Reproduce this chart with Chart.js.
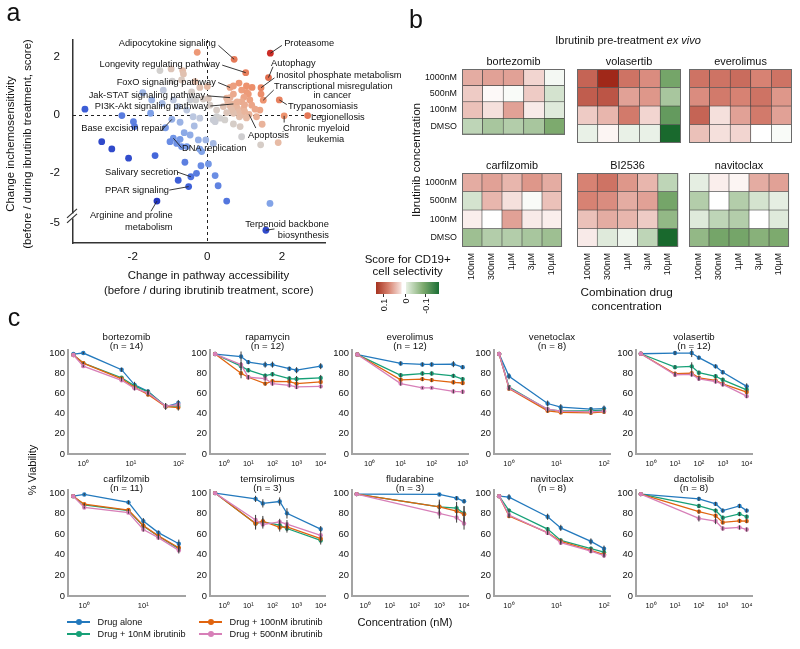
<!DOCTYPE html>
<html>
<head>
<meta charset="utf-8">
<script src="https://cdn.jsdelivr.net/npm/chart.js@4.4.1/dist/chart.umd.min.js"></script>
<style>
body { margin: 0; background: #fff; }
#fig { position: relative; width: 800px; height: 649px; overflow: hidden; font-family: "Liberation Sans", Arial, sans-serif; color: #111; }
#fig canvas { position: absolute; }
.t { position: absolute; white-space: nowrap; line-height: 1; }
</style>
</head>
<body>
<div id="fig"></div>
<script>
// ---- panel a: pathway scores (first 19 are the labelled pathways) ----
const pathX = [0.72, 1.69, 1.03, 1.64, 1.44, 0.61, 1.50, 0.61, 1.93, 0.70, 2.69, 2.06, 1.12, -0.95, -0.91, -0.44, -0.50, -1.35, 1.57,
  -0.27, 1.44, 1.41, 1.47, 1.90, 1.43,
  0.70, 0.92, 1.06, 0.70, 1.10, 0.52, 0.98, 0.92, 1.14, 0.79, 0.61, 0.43, 0.97, 0.83, 0.70, 0.86, 1.19, 1.28, 1.32, 0.80, 0.55, 1.00, 0.65, 0.90, 1.00, 0.52, 1.20, 0.85, 1.05,
  0.25, 0.16, 0.47, 0.92, 0.25, 0.34, 0.21, 0.70, 0.88, 1.05,
  -1.27, -0.97, -0.66, -0.64, -0.94, -0.69, -0.33, -0.20, 0.00, -0.42, -0.31, -0.11, 0.03, 0.07, -1.73, -1.18, -1.49, -1.21, -0.91, -0.78, -0.55, -0.46, -1.52, -2.29, -1.98, -1.95, -3.28, -1.12, -0.73, -0.38, -0.20, -0.35, -0.46, -0.62, -1.00, -0.73, -0.82, -0.69, -0.55, -0.24, -0.20, -0.04, 0.16, -0.15, -0.60, -1.40, -2.11, -2.56, -2.83, -0.17, 0.03, -0.29, -0.78, 0.21, 0.29, 0.52, 1.68];
const pathY = [1.92, 2.13, 1.46, 1.29, 0.94, 0.95, 0.51, 0.60, 0.52, 0.38, -0.02, -0.03, 0.02, -0.15, -0.80, -2.13, -2.47, -2.97, -5.25,
  2.16, 0.72, 0.17, -0.32, -0.95, -1.03,
  1.00, 0.86, 0.78, 0.72, 0.72, 0.58, 0.61, 0.46, 0.52, 0.27, 0.31, 0.29, 0.23, 0.11, 0.06, -0.06, 0.34, 0.20, -0.06, 0.45, 0.45, 0.35, 0.18, 0.00, 0.12, 0.08, 0.95, 1.10, 1.00,
  -0.06, -0.17, -0.17, -0.75, 0.17, -0.11, -0.23, -0.31, -0.40, -0.10,
  1.53, 1.59, 1.53, 1.41, 1.17, 1.21, 1.15, 0.95, 0.98, 0.80, 0.52, 0.55, 0.57, 0.34, 0.77, 0.86, 0.52, 0.40, 0.52, 0.29, 0.17, 0.52, 0.06, -0.02, -0.23, -0.40, 0.20, -0.44, -0.25, -0.06, -0.11, -0.38, -0.69, -0.61, -0.92, -0.84, -0.98, -1.09, -1.09, -0.86, -1.18, -0.86, -0.98, -1.26, -1.63, -1.40, -1.49, -1.17, -0.92, -1.75, -1.69, -2.01, -2.25, -2.09, -2.44, -2.97, -3.05];
const pathTicksX = [-2, 0, 2];
const pathTicksY = [2, 0, -2, -5];

// label text, text anchor (x, y, align) and where the leader line starts
const pathNotes = [
  { i: 0, lines: [['Adipocytokine signaling', 0.23, 2.48, 'right']], from: [0.30, 2.40] },
  { i: 1, lines: [['Proteasome', 2.06, 2.48, 'left']], from: [2.00, 2.40] },
  { i: 2, lines: [['Longevity regulating pathway', 0.34, 1.76, 'right']], from: [0.40, 1.72] },
  { i: 3, lines: [['Autophagy', 1.71, 1.79, 'left']], from: [1.76, 1.66] },
  { i: 4, lines: [['Inositol phosphate metabolism', 1.84, 1.38, 'left']], from: [1.80, 1.28] },
  { i: 5, lines: [['FoxO signaling pathway', 0.23, 1.14, 'right']], from: [0.29, 1.12] },
  { i: 6, lines: [['Transcriptional misregulation', 1.79, 0.97, 'left'], ['in cancer', 3.35, 0.66, 'center']], from: [1.78, 0.86] },
  { i: 7, lines: [['Jak-STAT signaling pathway', -0.06, 0.66, 'right']], from: [0.00, 0.66] },
  { i: 8, lines: [['Trypanosomiasis', 2.16, 0.28, 'left']], from: [2.13, 0.36] },
  { i: 9, lines: [['PI3K-Akt signaling pathway', 0.02, 0.31, 'right']], from: [0.08, 0.31] },
  { i: 10, lines: [['Legionellosis', 2.78, -0.07, 'left']], from: null },
  { i: 11, lines: [['Chronic myeloid', 2.03, -0.45, 'left'], ['leukemia', 2.67, -0.83, 'left']], from: [2.06, -0.26] },
  { i: 12, lines: [['Apoptosis', 1.09, -0.69, 'left']], from: [1.30, -0.45] },
  { i: 13, lines: [['Base excision repair', -3.38, -0.48, 'left']], from: [-1.24, -0.55] },
  { i: 14, lines: [['DNA replication', -0.68, -1.17, 'left']], from: [-0.69, -1.13] },
  { i: 15, lines: [['Salivary secretion', -2.74, -1.97, 'left']], from: [-0.80, -1.97] },
  { i: 16, lines: [['PPAR signaling', -2.74, -2.59, 'left']], from: [-1.02, -2.59] },
  { i: 17, lines: [['Arginine and proline', -0.93, -3.48, 'right'], ['metabolism', -0.93, -3.86, 'right']], from: [-1.51, -3.32] },
  { i: 18, lines: [['Terpenoid backbone', 3.26, -3.76, 'right'], ['biosynthesis', 3.26, -4.14, 'right']], from: [1.80, -3.93] }
];

// ---- panel b: CD19+ selectivity scores (rows: ibrutinib, cols: drug) ----
const heatRows = ['1000nM', '500nM', '100nM', 'DMSO'];
const heatCols = ['100nM', '300nM', '1µM', '3µM', '10µM'];
const bortezomibScore = [
  [0.040, 0.045, 0.045, 0.020, -0.005],
  [0.025, 0.003, -0.003, 0.025, -0.020],
  [0.030, 0.015, 0.045, 0.010, -0.015],
  [-0.030, -0.040, -0.035, -0.040, -0.060]
];
const volasertibScore = [
  [0.080, 0.120, 0.070, 0.055, -0.065],
  [0.085, 0.090, 0.045, 0.050, -0.040],
  [0.025, 0.035, 0.065, 0.020, -0.075],
  [-0.010, 0.005, -0.010, -0.010, -0.120]
];
const everolimusScore = [
  [0.070, 0.070, 0.075, 0.060, 0.070],
  [0.055, 0.065, 0.060, 0.070, 0.050],
  [0.080, 0.015, 0.045, 0.065, 0.045],
  [0.030, 0.015, 0.020, 0.000, -0.003]
];
const carfilzomibScore = [
  [0.040, 0.045, 0.035, 0.050, 0.040],
  [-0.020, 0.035, 0.015, -0.003, 0.030],
  [0.008, 0.000, 0.045, 0.010, 0.008],
  [-0.045, -0.035, -0.035, -0.040, -0.045]
];
const bi2536Score = [
  [0.060, 0.070, 0.050, 0.035, -0.030],
  [0.060, 0.055, 0.040, 0.045, -0.065],
  [0.030, 0.040, 0.035, 0.025, -0.050],
  [0.010, -0.015, -0.008, -0.030, -0.120]
];
const navitoclaxScore = [
  [-0.012, 0.008, 0.005, 0.040, 0.045],
  [-0.035, 0.000, -0.035, -0.020, -0.012],
  [-0.015, -0.030, -0.035, 0.000, -0.015],
  [-0.050, -0.065, -0.065, -0.055, -0.060]
];

// ---- panel c: viability curves (alone, +10nM, +100nM, +500nM ibrutinib) ----
const seriesNames = ['Drug alone', 'Drug + 10nM ibrutinib', 'Drug + 100nM ibrutinib', 'Drug + 500nM ibrutinib'];
const viabTicks = [0, 20, 40, 60, 80, 100];

const bortezomibConc = [0.62, 1, 6.4, 12, 23, 54, 100];
const bortezomibViab = [[99, 100, 83.5, 68.5, 62, 47, 50.5], [98, 90, 75.5, 67.5, 61.5, 47.5, 47.5], [98, 90, 74.5, 66, 59, 47, 46], [98, 87, 73, 65, 60.5, 47.5, 49]];
const bortezomibErr = [[0, 1, 2, 3, 2, 3, 3], [0, 1, 1, 2, 2, 3, 3], [0, 1, 1, 2, 2, 3, 3], [0, 1, 1, 2, 2, 3, 3]];

const rapamycinConc = [0.42, 5, 10, 50, 100, 500, 1000, 10000];
const rapamycinViab = [[99, 96.5, 91, 88.5, 88.5, 84.5, 83, 87], [99, 87, 83, 77.6, 79, 74.7, 74.3, 75.3], [99, 80, 76, 69.7, 72, 71.7, 69.7, 71.4], [99, 88.5, 76, 74.7, 69.7, 68, 66.4, 67]];
const rapamycinErr = [[0, 5, 2, 3, 3, 2, 3, 3], [0, 4, 2, 2, 2, 2, 3, 3], [0, 5, 2, 2, 2, 2, 2, 2], [0, 3, 2, 2, 2, 2, 2, 2]];

const everolimusConc = [0.4, 10, 50, 100, 500, 1000];
const everolimusViab = [[98.5, 89.7, 88.7, 88.7, 89, 86], [98.5, 78, 79.7, 79.7, 77.4, 74.2], [98.5, 73.5, 74.2, 73.2, 71, 70.3], [98.5, 69.7, 65.5, 65.5, 62, 61.6]];
const everolimusErr = [[0, 2, 2, 2, 3, 2], [0, 2, 2, 2, 2, 2], [0, 2, 2, 2, 2, 2], [0, 2, 1, 1, 2, 2]];

const venetoclaxConc = [0.62, 1, 6.5, 12.3, 53, 100];
const venetoclaxViab = [[99, 77, 50, 46.4, 44.4, 45], [99, 66.3, 44, 42.8, 42.8, 43.5], [99, 64.7, 42.8, 41.2, 40.8, 41.8], [99, 65.4, 44.4, 42.5, 41.8, 42.5]];
const venetoclaxErr = [[0, 3, 3, 3, 2, 3], [0, 2, 2, 2, 2, 2], [0, 2, 2, 2, 2, 2], [0, 2, 2, 2, 2, 2]];

const volasertibConc = [0.37, 10, 50, 100, 500, 1000, 10000];
const volasertibViab = [[99.3, 100, 100, 95.4, 86.8, 81, 67], [99.3, 86, 86.8, 80.5, 77, 73.5, 63.6], [99.3, 79.5, 80, 75.5, 72.8, 69.5, 61.3], [99.3, 78.5, 78.8, 74.5, 71.8, 68.9, 57.3]];
const volasertibErr = [[0, 2, 4, 2, 2, 2, 3], [0, 2, 4, 2, 2, 2, 2], [0, 2, 3, 2, 2, 2, 2], [0, 2, 2, 2, 2, 2, 2]];

const carfilzomibConc = [0.65, 1, 5.6, 10, 18, 40];
const carfilzomibViab = [[97, 98.7, 91, 72.8, 61.6, 50.8], [97, 88.5, 83, 67.9, 58, 46], [97, 89.2, 83.5, 68.5, 58.4, 46.9], [97, 86, 81, 64.6, 56.7, 44.3]];
const carfilzomibErr = [[0, 1, 2, 3, 2, 4], [0, 1, 1, 2, 2, 3], [0, 1, 1, 2, 2, 3], [0, 1, 1, 2, 2, 3]];

const temsirolimusConc = [0.42, 20, 40, 200, 400, 10000];
const temsirolimusViab = [[100, 94.4, 90, 91.8, 80.3, 65], [100, 70.5, 72, 68.9, 65.6, 54], [100, 70.5, 72.8, 66.6, 67.2, 55.7], [100, 73.8, 69.5, 72, 69.8, 59]];
const temsirolimusErr = [[0, 3, 4, 4, 5, 3], [0, 6, 4, 4, 4, 4], [0, 5, 5, 4, 4, 3], [0, 5, 4, 3, 4, 4]];

const fludarabineConc = [0.45, 1000, 5000, 10000];
const fludarabineViab = [[99, 98.7, 95, 92], [99, 86.7, 85.4, 80.2], [99, 86.7, 82.5, 79.5], [99, 80.2, 76.3, 70.5]];
const fludarabineErr = [[0, 1, 2, 2], [0, 5, 6, 7], [0, 7, 6, 8], [0, 5, 5, 6]];

const navitoclaxConc = [0.62, 1, 6.5, 12.3, 53, 100];
const navitoclaxViab = [[97, 96, 77, 66.2, 53, 46], [97, 83, 65, 54, 46, 42.6], [97, 77.7, 61.6, 53, 44.3, 40.3], [97, 78.7, 61.3, 51.8, 43.6, 39.3]];
const navitoclaxErr = [[0, 3, 3, 3, 3, 3], [0, 2, 2, 2, 2, 2], [0, 2, 2, 2, 2, 2], [0, 2, 2, 2, 2, 2]];

const dactolisibConc = [0.37, 100, 500, 1000, 5000, 10000];
const dactolisibViab = [[99, 94.4, 89.5, 83, 87.5, 83], [99, 87.5, 83, 76, 79.7, 77], [99, 82, 78, 71.5, 73, 72.8], [99, 75.4, 72.8, 65.6, 66.6, 64.6]];
const dactolisibErr = [[0, 2, 2, 2, 2, 2], [0, 2, 2, 2, 2, 2], [0, 2, 2, 2, 2, 2], [0, 3, 3, 2, 2, 2]];

const drugPlots = [
  { name: 'bortezomib', n: 14, conc: bortezomibConc, viab: bortezomibViab, err: bortezomibErr },
  { name: 'rapamycin', n: 12, conc: rapamycinConc, viab: rapamycinViab, err: rapamycinErr },
  { name: 'everolimus', n: 12, conc: everolimusConc, viab: everolimusViab, err: everolimusErr },
  { name: 'venetoclax', n: 8, conc: venetoclaxConc, viab: venetoclaxViab, err: venetoclaxErr },
  { name: 'volasertib', n: 12, conc: volasertibConc, viab: volasertibViab, err: volasertibErr },
  { name: 'carfilzomib', n: 11, conc: carfilzomibConc, viab: carfilzomibViab, err: carfilzomibErr },
  { name: 'temsirolimus', n: 3, conc: temsirolimusConc, viab: temsirolimusViab, err: temsirolimusErr },
  { name: 'fludarabine', n: 3, conc: fludarabineConc, viab: fludarabineViab, err: fludarabineErr },
  { name: 'navitoclax', n: 8, conc: navitoclaxConc, viab: navitoclaxViab, err: navitoclaxErr },
  { name: 'dactolisib', n: 8, conc: dactolisibConc, viab: dactolisibViab, err: dactolisibErr }
];

// ---------------- layout / style ----------------
const FAM = '"Liberation Sans", Arial, sans-serif';
Chart.defaults.font.family = FAM;
Chart.defaults.color = '#111';
Chart.defaults.animation = false;
const seriesColors = ['#2379bd', '#17a077', '#e0640f', '#d77fb8'];
const fig = document.getElementById('fig');

function txt(html, x, base, size, align) {
  const d = document.createElement('div');
  d.className = 't';
  d.innerHTML = html;
  d.style.fontSize = size + 'px';
  d.style.left = x + 'px';
  d.style.top = (base - 0.8465 * size) + 'px';
  const tx = align === 'left' ? '0' : align === 'right' ? '-100%' : '-50%';
  d.style.transform = 'translateX(' + tx + ')';
  fig.appendChild(d);
  return d;
}
function vtxt(html, cx, cy, size, topAnchored) {
  const d = document.createElement('div');
  d.className = 't';
  d.innerHTML = html;
  d.style.fontSize = size + 'px';
  fig.appendChild(d);
  const w = d.offsetWidth;
  d.style.left = cx + 'px';
  d.style.top = (topAnchored ? cy + w / 2 : cy) + 'px';
  d.style.transform = 'translate(-50%,-50%) rotate(-90deg)';
  return d;
}
function box(x, y, w, h, bg, radius) {
  const d = document.createElement('div');
  d.style.position = 'absolute';
  d.style.left = x + 'px'; d.style.top = y + 'px';
  d.style.width = w + 'px'; d.style.height = h + 'px';
  d.style.background = bg;
  if (radius) d.style.borderRadius = radius;
  fig.appendChild(d);
  return d;
}
function makeCanvas(b, pad) {
  const c = document.createElement('canvas');
  c.width = b[2] + pad.l + pad.r;
  c.height = b[3] + pad.t + pad.b;
  c.style.left = (b[0] - pad.l) + 'px';
  c.style.top = (b[1] - pad.t) + 'px';
  fig.appendChild(c);
  return c;
}
const tickList = vals => s => { s.ticks = vals.map(v => ({ value: v })); };

// ---------------- panel a ----------------
const yBreak = -3.3, breakShift = 1.276;
const plotY = v => (v < yBreak ? v + breakShift : v);
const warmCool = [[-4.5, [34, 51, 187]], [-3, [61, 95, 216]], [-1.5, [122, 158, 232]], [-0.5, [185, 198, 226]], [0.3, [211, 208, 205]],
  [1, [232, 185, 162]], [2, [238, 148, 112]], [3, [224, 106, 74]], [4, [200, 31, 31]]];
function pathColor(s) {
  if (s <= warmCool[0][0]) return 'rgb(' + warmCool[0][1] + ')';
  for (let k = 1; k < warmCool.length; k++) {
    if (s <= warmCool[k][0]) {
      const [s0, c0] = warmCool[k - 1], [s1, c1] = warmCool[k];
      const f = (s - s0) / (s1 - s0);
      return 'rgb(' + c0.map((c, j) => Math.round(c + (c1[j] - c) * f)) + ')';
    }
  }
  return 'rgb(' + warmCool[warmCool.length - 1][1] + ')';
}

const aPad = { l: 73, r: 85, t: 40, b: 57 };
const aCanvas = makeCanvas([73, 40, 252, 203], aPad);
const pathPlugin = {
  id: 'pathNotes',
  beforeDatasetsDraw(chart) {
    const { ctx, chartArea: a, scales: { x, y } } = chart;
    ctx.save();
    ctx.setLineDash([3, 3]);
    ctx.strokeStyle = '#222';
    ctx.lineWidth = 1;
    ctx.beginPath();
    ctx.moveTo(Math.round(x.getPixelForValue(0)) + 0.5, a.top);
    ctx.lineTo(Math.round(x.getPixelForValue(0)) + 0.5, a.bottom);
    ctx.moveTo(a.left, Math.round(y.getPixelForValue(0)) + 0.5);
    ctx.lineTo(a.right, Math.round(y.getPixelForValue(0)) + 0.5);
    ctx.stroke();
    ctx.restore();
  },
  afterDatasetsDraw(chart) {
    const { ctx, chartArea: a, scales: { x, y } } = chart;
    ctx.save();
    ctx.strokeStyle = '#222';
    ctx.lineWidth = 0.9;
    ctx.fillStyle = '#111';
    ctx.font = '9.3px ' + FAM;
    ctx.textBaseline = 'middle';
    pathNotes.forEach(n => {
      if (n.from) {
        ctx.beginPath();
        ctx.moveTo(x.getPixelForValue(n.from[0]), y.getPixelForValue(n.from[1]));
        ctx.lineTo(x.getPixelForValue(pathX[n.i]), y.getPixelForValue(plotY(pathY[n.i])));
        ctx.stroke();
      }
      n.lines.forEach(([t, tx, ty, al]) => {
        ctx.textAlign = al;
        ctx.fillText(t, x.getPixelForValue(tx), y.getPixelForValue(ty));
      });
    });
    // axis break marks
    const yc = y.getPixelForValue(-3.48), L = a.left;
    ctx.fillStyle = '#fff';
    ctx.fillRect(L - 2, yc - 2.5, 4, 5);
    ctx.strokeStyle = '#333';
    ctx.lineWidth = 1.2;
    [-2.5, 2.5].forEach(off => {
      ctx.beginPath();
      ctx.moveTo(L - 6, yc + off + 4.5);
      ctx.lineTo(L + 4, yc + off - 4.5);
      ctx.stroke();
    });
    ctx.restore();
  }
};
new Chart(aCanvas, {
  type: 'scatter',
  data: {
    datasets: [{
      data: pathX.map((v, i) => ({ x: v, y: plotY(pathY[i]) })),
      pointBackgroundColor: pathX.map((v, i) => pathColor(v + pathY[i])),
      pointBorderWidth: 0,
      pointRadius: 3.4
    }]
  },
  options: {
    responsive: false,
    layout: { padding: { top: aPad.t, right: aPad.r, left: 0, bottom: 0 }, autoPadding: false },
    plugins: { legend: { display: false }, tooltip: { enabled: false } },
    scales: {
      x: {
        type: 'linear', min: -3.6, max: 3.155,
        afterBuildTicks: tickList(pathTicksX),
        afterFit: s => { s.height = aPad.b; },
        ticks: { font: { size: 11.6 }, padding: 7 },
        grid: { display: false, drawTicks: false },
        border: { color: '#333', width: 1.5 }
      },
      y: {
        type: 'linear', min: -4.414, max: 2.586,
        afterBuildTicks: tickList(pathTicksY.map(plotY)),
        afterFit: s => { s.width = aPad.l; },
        ticks: { font: { size: 11.6 }, padding: 13, callback: v => (v < yBreak ? '-5' : String(v)) },
        grid: { display: false, drawTicks: false },
        border: { color: '#333', width: 1.5 }
      }
    }
  },
  plugins: [pathPlugin]
});

// ---------------- panel b ----------------
const redRamp = [[255, 255, 255], [215, 130, 115], [160, 40, 25]];
const greenRamp = [[255, 255, 255], [125, 170, 110], [25, 105, 45]];
function heatColor(v) {
  const t = Math.min(Math.abs(v) / 0.12, 1) * 2;
  const ramp = v > 0 ? redRamp : greenRamp;
  const k = Math.min(Math.floor(t), 1), f = t - k;
  return 'rgb(' + ramp[k].map((c, j) => Math.round(c + (ramp[k + 1][j] - c) * f)) + ')';
}
const heatPanels = [
  { drug: 'bortezomib', score: bortezomibScore, box: [462, 69, 103, 74], rows: true, cols: false },
  { drug: 'volasertib', score: volasertibScore, box: [577, 69, 104, 74], rows: false, cols: false },
  { drug: 'everolimus', score: everolimusScore, box: [689, 69, 103, 74], rows: false, cols: false },
  { drug: 'carfilzomib', score: carfilzomibScore, box: [462, 173, 103, 74], rows: true, cols: true },
  { drug: 'BI2536', score: bi2536Score, box: [577, 173, 104, 74], rows: false, cols: true },
  { drug: 'navitoclax', score: navitoclaxScore, box: [689, 173, 103, 74], rows: false, cols: true }
];
heatPanels.forEach(p => {
  const pad = { l: p.rows ? 52 : 2, r: 4, t: 18, b: p.cols ? 40 : 2 };
  const cv = makeCanvas(p.box, pad);
  new Chart(cv, {
    type: 'bar',
    data: {
      labels: heatCols,
      datasets: heatRows.map((row, r) => ({
        label: row,
        data: heatCols.map(() => [3 - r, 4 - r]),
        backgroundColor: p.score[r].map(heatColor),
        borderColor: '#3c3c3c',
        borderWidth: 0.6,
        borderSkipped: false,
        barPercentage: 1,
        categoryPercentage: 1,
        grouped: false
      }))
    },
    options: {
      responsive: false,
      layout: { padding: { top: pad.t, right: pad.r, left: 0, bottom: 0 }, autoPadding: false },
      plugins: { legend: { display: false }, tooltip: { enabled: false } },
      scales: {
        x: {
          afterFit: s => { s.height = pad.b; },
          ticks: { display: p.cols, minRotation: 90, maxRotation: 90, autoSkip: false, font: { size: 8.8 }, padding: 6 },
          grid: { display: false, drawTicks: false },
          border: { display: false }
        },
        y: {
          type: 'linear', min: 0, max: 4,
          afterBuildTicks: tickList([0.5, 1.5, 2.5, 3.5]),
          afterFit: s => { s.width = pad.l; },
          ticks: { display: p.rows, font: { size: 8.9 }, padding: 5, callback: v => heatRows[3 - Math.floor(v)] },
          grid: { display: false, drawTicks: false },
          border: { display: false }
        }
      }
    },
    plugins: [{
      id: 'heatFrame',
      afterDraw(chart) {
        const { ctx, chartArea: a } = chart;
        ctx.save();
        ctx.strokeStyle = '#6a6a6a';
        ctx.lineWidth = 1;
        ctx.strokeRect(a.left + 0.5, a.top + 0.5, a.right - a.left - 1, a.bottom - a.top - 1);
        ctx.fillStyle = '#111';
        ctx.font = '10.9px ' + FAM;
        ctx.textAlign = 'center';
        ctx.fillText(p.drug, (a.left + a.right) / 2, a.top - 4);
        ctx.restore();
      }
    }]
  });
});

// ---------------- panel c ----------------
const cBoxes = [[68, 350, 117, 104], [210, 350, 115, 104], [352, 350, 116, 104], [494, 350, 116, 104], [636, 350, 116, 104],
  [68, 490, 117, 106], [210, 490, 115, 106], [352, 490, 116, 106], [494, 490, 116, 106], [636, 490, 116, 106]];
const cRange = [[-0.322, 2.141], [-0.587, 4.178], [-0.571, 3.171], [-0.316, 2.126], [-0.632, 4.222],
  [-0.276, 1.707], [-0.587, 4.178], [-0.534, 4.16], [-0.316, 2.126], [-0.632, 4.222]];
const sup = ['⁰', '¹', '²', '³', '⁴', '⁵'];
const errorBars = {
  id: 'errorBars',
  afterDatasetsDraw(chart) {
    const { ctx, scales: { y } } = chart;
    ctx.save();
    ctx.strokeStyle = '#3a3a3a';
    ctx.lineWidth = 1;
    chart.data.datasets.forEach((ds, di) => {
      chart.getDatasetMeta(di).data.forEach((pt, i) => {
        const e = ds.err[i];
        if (!e) return;
        const v = ds.data[i].y;
        ctx.beginPath();
        ctx.moveTo(pt.x, y.getPixelForValue(v - e));
        ctx.lineTo(pt.x, y.getPixelForValue(v + e));
        ctx.stroke();
      });
    });
    ctx.restore();
  }
};
drugPlots.forEach((d, k) => {
  const b = cBoxes[k], r = cRange[k];
  const pad = { l: 40, r: 10, t: 22, b: 20 };
  const cv = makeCanvas(b, pad);
  const decades = [];
  for (let e = Math.ceil(r[0]); e <= Math.floor(r[1]); e++) decades.push(Math.pow(10, e));
  const titleDy = k < 5 ? [-10.4, -1.4] : [-8.5, 0.5];
  new Chart(cv, {
    type: 'line',
    data: {
      datasets: d.viab.map((vals, s) => ({
        label: seriesNames[s],
        data: vals.map((v, i) => ({ x: d.conc[i], y: v })),
        err: d.err[s],
        borderColor: seriesColors[s],
        backgroundColor: seriesColors[s],
        borderWidth: 1.3,
        pointRadius: 2.2,
        pointBorderWidth: 0,
        order: 4 - s
      }))
    },
    options: {
      responsive: false,
      layout: { padding: { top: pad.t, right: pad.r, left: 0, bottom: 0 }, autoPadding: false },
      plugins: { legend: { display: false }, tooltip: { enabled: false } },
      scales: {
        x: {
          type: 'logarithmic', min: Math.pow(10, r[0]), max: Math.pow(10, r[1]),
          afterBuildTicks: tickList(decades),
          afterFit: s => { s.height = pad.b; },
          ticks: { font: { size: 7.5 }, padding: 5, callback: v => '10' + sup[Math.round(Math.log10(v))] },
          grid: { display: false, drawTicks: false },
          border: { color: '#a3a3a3', width: 2 }
        },
        y: {
          type: 'linear', min: 0, max: 103,
          afterBuildTicks: tickList(viabTicks),
          afterFit: s => { s.width = pad.l; },
          ticks: { font: { size: 9.4 }, padding: 3 },
          grid: { display: false, drawTicks: false },
          border: { color: '#a3a3a3', width: 2 }
        }
      }
    },
    plugins: [errorBars, {
      id: 'plotTitle',
      afterDraw(chart) {
        const { ctx, chartArea: a } = chart;
        ctx.save();
        ctx.fillStyle = '#111';
        ctx.font = '9.7px ' + FAM;
        ctx.textAlign = 'center';
        ctx.fillText(d.name, (a.left + a.right) / 2, a.top + titleDy[0]);
        ctx.fillText('(n = ' + d.n + ')', (a.left + a.right) / 2, a.top + titleDy[1]);
        ctx.restore();
      }
    }]
  });
});

// legend for panel c
seriesNames.forEach((nm, s) => {
  const x0 = [67, 199][s < 2 ? 0 : 1], y0 = [622.3, 634.3][s % 2];
  box(x0, y0 - 1, 23, 2, seriesColors[s]);
  box(x0 + 8.5, y0 - 3, 6, 6, seriesColors[s], '50%');
  txt(nm, x0 + 30.5, y0 + 3.3, 9.2, 'left');
});

// ---------------- free text ----------------
txt('a', 13.5, 21, 25, 'center');
txt('b', 416, 28, 25, 'center');
txt('c', 14, 326, 25, 'center');

vtxt('Change inchemosensitivity', 11, 144, 11.4);
vtxt('(before / during ibrutinib treatment, score)', 27.5, 144, 11.4);
txt('Change in pathway accessibility', 208.5, 280, 11.4, 'center');
txt('(before / during ibrutinib treatment, score)', 208.7, 294.5, 11.4, 'center');

txt('Ibrutinib pre-treatment <i>ex vivo</i>', 628, 44.3, 11, 'center');
vtxt('Ibrutinib concentration', 416, 160, 11.6);
txt('Combination drug', 626.7, 296, 11.7, 'center');
txt('concentration', 626.7, 309.5, 11.7, 'center');
txt('Score for CD19+', 407.7, 264, 11.5, 'center');
txt('cell selectivity', 407.7, 276, 11.5, 'center');
box(376, 282, 63, 12, 'linear-gradient(to right, #a5321f 0%, #d7826f 20%, #f6e3de 40%, #ffffff 41%, #ffffff 47%, #e6f0e2 48%, #7daa6e 75%, #1b6e35 100%)');
[[383, '0.1'], [405, '0'], [425, '-0.1']].forEach(([x, s]) => {
  box(x, 294, 1, 3, '#333');
  vtxt(s, x + 0.5, 298, 9, true);
});

vtxt('% Viability', 32, 470, 11);
txt('Concentration (nM)', 405, 626.7, 11.1, 'center');
</script>
</body>
</html>
